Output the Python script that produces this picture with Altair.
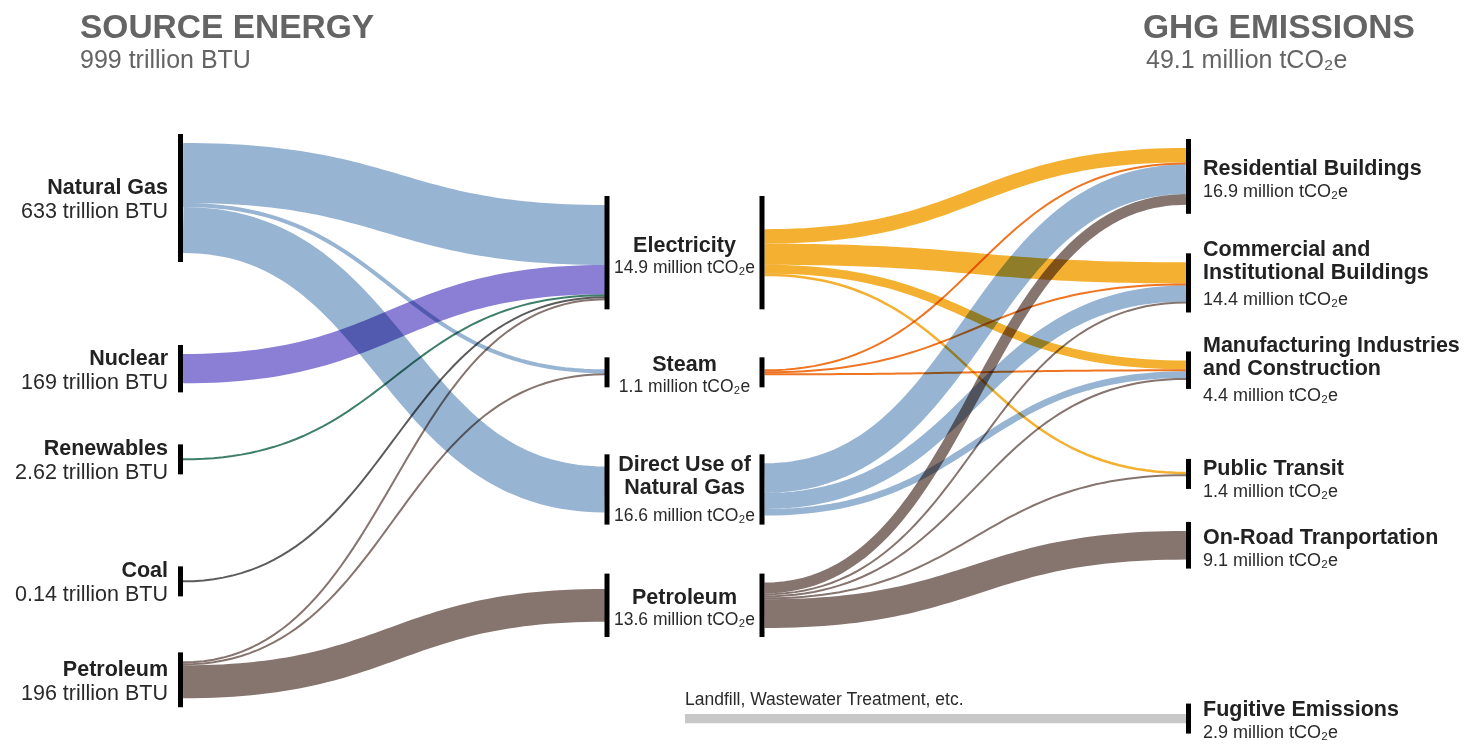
import altair as alt
import pandas as pd
import numpy as np

# ---------------- DATA ----------------
source_keys = ["NG", "NUC", "REN", "COAL", "PSRC"]
source_labels = [["Natural Gas"], ["Nuclear"], ["Renewables"], ["Coal"], ["Petroleum"]]
source_totals = [633, 169, 2.62, 0.14, 196]          # trillion BTU

mid_keys = ["ELEC", "STEAM", "DNG", "PET"]
mid_labels = [["Electricity"], ["Steam"], ["Direct Use of", "Natural Gas"], ["Petroleum"]]
mid_totals = [14.9, 1.1, 16.6, 13.6]                 # million tCO2e

end_keys = ["RES", "COM", "MAN", "TRN", "ROAD", "FUG"]
end_labels = [["Residential Buildings"], ["Commercial and", "Institutional Buildings"],
              ["Manufacturing Industries", "and Construction"], ["Public Transit"],
              ["On-Road Tranportation"], ["Fugitive Emissions"]]
end_totals = [16.9, 14.4, 4.4, 1.4, 9.1, 2.9]        # million tCO2e

other_key = "LAND"
other_label = "Landfill, Wastewater Treatment, etc."

total_energy = 999      # trillion BTU
total_emissions = 49.1  # million tCO2e

# energy flows (trillion BTU)
energy_from = ["NG", "NG", "NG", "NUC", "REN", "COAL", "PSRC", "PSRC", "PSRC"]
energy_to = ["ELEC", "STEAM", "DNG", "ELEC", "ELEC", "ELEC", "ELEC", "STEAM", "PET"]
energy_tbtu = [345, 23, 265, 169, 2.62, 0.14, 5, 2, 189]

# emission flows (million tCO2e)
emis_from = ["ELEC", "ELEC", "ELEC", "ELEC", "STEAM", "STEAM", "STEAM", "DNG", "DNG", "DNG",
             "PET", "PET", "PET", "PET", "PET", "LAND"]
emis_to = ["RES", "COM", "MAN", "TRN", "RES", "COM", "MAN", "RES", "COM", "MAN",
           "RES", "COM", "MAN", "TRN", "ROAD", "FUG"]
emis_mt = [4.6, 6.7, 2.8, 0.8, 0.4, 0.4, 0.3, 9.4, 5.1, 2.1, 3.4, 0.3, 0.3, 0.5, 9.1, 2.9]

# ---------------- STYLE / LAYOUT ----------------
link_color = {"NG": "#97b4d3", "NUC": "#8a7fd5", "REN": "#3e7f69", "COAL": "#5c5c5c",
              "PSRC": "#86746f", "ELEC": "#f4b131", "STEAM": "#ef7522", "DNG": "#97b4d3",
              "PET": "#86746f", "LAND": "#c8c8c8"}
K_ENERGY = 110 / 633     # px per trillion BTU
K_EMIS = 3.15            # px per million tCO2e
MIN_W = 2.0
PAD, MIN_BAR = 18, 30
COL_X = {"left": 180.5, "midL": 607, "midR": 762, "right": 1188.5}
LINK_X = {"s1": (183, 605), "s2": (764.5, 1186)}
OTHER_X = 685
col_top = {"left": 134, "mid": 196, "right": 139}
col_gaps = {"left": [83, 52, 92, 56], "mid": [48, 67, 49], "right": [39.5, 39, 70, 33, 135]}
label_shift = {"COM": -9, "TRN": 2, "FUG": -2}

BOLD_FONT = "Liberation Sans"
REG_FONT = "Liberation Sans"
DARK = "#222222"
VALC = "#2a2a2a"
GREY = "#646464"

# ---------------- LAYOUT COMPUTATION ----------------
links = []
for f, t, v in zip(energy_from, energy_to, energy_tbtu):
    links.append(dict(src=f, dst=t, value=v, w=max(v * K_ENERGY, MIN_W), stage="s1"))
for f, t, v in zip(emis_from, emis_to, emis_mt):
    links.append(dict(src=f, dst=t, value=v, w=max(v * K_EMIS, MIN_W), stage="s2"))

out_tot, in_tot = {}, {}
for l in links:
    out_tot[l["src"]] = out_tot.get(l["src"], 0) + l["w"]
    in_tot[l["dst"]] = in_tot.get(l["dst"], 0) + l["w"]

def band(k):
    return max(out_tot.get(k, 0), in_tot.get(k, 0))

center, bar_h = {}, {}
for col, keys in (("left", source_keys), ("mid", mid_keys), ("right", end_keys)):
    y = col_top[col]
    for i, k in enumerate(keys):
        if i > 0:
            y += col_gaps[col][i - 1]
        h = max(band(k) + PAD, MIN_BAR)
        center[k] = y + h / 2
        bar_h[k] = h
        y += h
center[other_key] = center["FUG"]

# stacking of link ends
y0 = {}
y1 = {}
for k in list(center):
    outs = sorted([i for i, l in enumerate(links) if l["src"] == k], key=lambda i: center[links[i]["dst"]])
    start = center[k] - sum(links[i]["w"] for i in outs) / 2
    for i in outs:
        y0[i] = start + links[i]["w"] / 2
        start += links[i]["w"]
    ins = sorted([i for i, l in enumerate(links) if l["dst"] == k], key=lambda i: center[links[i]["src"]])
    start = center[k] - sum(links[i]["w"] for i in ins) / 2
    for i in ins:
        y1[i] = start + links[i]["w"] / 2
        start += links[i]["w"]

rows = []
N = 60
t = np.linspace(0, 1, N)
for i, l in enumerate(links):
    xa, xb = LINK_X[l["stage"]]
    if l["src"] == other_key:
        xa = OTHER_X
    xm = (xa + xb) / 2
    xs = (1 - t) ** 3 * xa + 3 * (1 - t) ** 2 * t * xm + 3 * (1 - t) * t ** 2 * xm + t ** 3 * xb
    ys = (1 - t) ** 3 * y0[i] + 3 * (1 - t) ** 2 * t * y0[i] + 3 * (1 - t) * t ** 2 * y1[i] + t ** 3 * y1[i]
    for j in range(N):
        rows.append(dict(link=i, step=j, x=xs[j], y=ys[j], w=l["w"], color=link_color[l["src"]]))
link_df = pd.DataFrame(rows)

bars = []
for k in source_keys:
    bars.append(dict(xc=COL_X["left"], k=k))
for k in mid_keys:
    bars.append(dict(xc=COL_X["midL"], k=k))
    bars.append(dict(xc=COL_X["midR"], k=k))
for k in end_keys:
    bars.append(dict(xc=COL_X["right"], k=k))
bar_df = pd.DataFrame([dict(x=b["xc"] - 2.5, x2=b["xc"] + 2.5,
                            y=center[b["k"]] - bar_h[b["k"]] / 2,
                            y2=center[b["k"]] + bar_h[b["k"]] / 2) for b in bars])

def fmt(v):
    return f"{v:g}"

def label_rows(keys, labels, values, unit, x, nudge_first=-1, val_gap=22, extra=4):
    bold, val = [], []
    for k, lines, v in zip(keys, labels, values):
        c = center[k] + label_shift.get(k, 0)
        nb = len(lines)
        yy = c + nudge_first - 17 * (nb - 1)
        for ln in lines:
            bold.append(dict(x=x, y=yy, text=ln))
            yy += 23
        yy -= 23
        val.append(dict(x=x, y=yy + val_gap + extra * (nb - 1), text=f"{fmt(v)} {unit}"))
    return pd.DataFrame(bold), pd.DataFrame(val)

lb, lv = label_rows(source_keys, source_labels, source_totals, "trillion BTU", 168, -4, 24)
mb, mv = label_rows(mid_keys, mid_labels, mid_totals, "million tCO\u2082e", 684.5, -1, 21, 6)
rb, rv = label_rows(end_keys, end_labels, end_totals, "million tCO\u2082e", 1203, -1, 22, 4)

titles = pd.DataFrame([dict(x=80, y=38, text="SOURCE ENERGY"), dict(x=1143, y=38, text="GHG EMISSIONS")])
subtitles = pd.DataFrame([dict(x=80, y=68, text=f"{total_energy} trillion BTU"),
                          dict(x=1146, y=68, text=f"{total_emissions} million tCO\u2082e")])
other_df = pd.DataFrame([dict(x=OTHER_X, y=center[other_key] - 14, text=other_label)])

# ---------------- CHART ----------------
XS = alt.Scale(domain=[8, 1468], nice=False, zero=False)
YS = alt.Scale(domain=[8, 741], nice=False, zero=False, reverse=True)

def X(f="x"):
    return alt.X(f"{f}:Q", scale=XS, axis=None)

def Y(f="y"):
    return alt.Y(f"{f}:Q", scale=YS, axis=None)

link_layer = alt.Chart(link_df).mark_line(blend="multiply", strokeCap="butt").encode(
    x=X(), y=Y(), detail="link:N", order="step:Q",
    color=alt.Color("color:N", scale=None), size=alt.Size("w:Q", scale=None))

bar_layer = alt.Chart(bar_df).mark_rect(color="#000000").encode(
    x=X(), x2="x2:Q", y=Y(), y2="y2:Q")

def text_layer(df, align, font, size, weight="normal", color=DARK):
    return alt.Chart(df).mark_text(align=align, baseline="alphabetic", font=font, fontSize=size,
                                   fontWeight=weight, color=color).encode(x=X(), y=Y(), text="text:N")

layers = [
    link_layer, bar_layer,
    text_layer(lb, "right", BOLD_FONT, 21.5, "bold"),
    text_layer(lv, "right", REG_FONT, 21.5, color=VALC),
    text_layer(mb, "center", BOLD_FONT, 21.5, "bold"),
    text_layer(mv, "center", REG_FONT, 17.5, color=VALC),
    text_layer(rb, "left", BOLD_FONT, 21.5, "bold"),
    text_layer(rv, "left", REG_FONT, 18, color=VALC),
    text_layer(other_df, "left", REG_FONT, 17.5, color=VALC),
    text_layer(titles, "left", BOLD_FONT, 33.5, "bold", GREY),
    text_layer(subtitles, "left", REG_FONT, 25, color=GREY),
]

chart = alt.layer(*layers).properties(
    width=1460, height=733, padding=0,
    autosize=alt.AutoSizeParams(type="none"),
    background="#ffffff",
).configure_view(stroke=None)

chart.save("out.html", embed_options={"renderer": "svg", "actions": False})
